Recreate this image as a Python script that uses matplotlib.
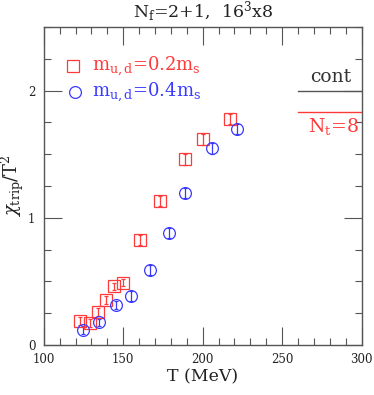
import numpy as np
import matplotlib
matplotlib.use("Agg")
import matplotlib.pyplot as plt
from matplotlib.ticker import MultipleLocator

# ==========================================
# DATA
# ==========================================

T_red = [122.8, 129.1, 134.0, 139.0, 144.0, 150.0, 160.8, 173.0, 188.9, 200.3, 217.3]
chi_red = [0.188, 0.173, 0.261, 0.353, 0.46, 0.49, 0.824, 1.13, 1.459, 1.616, 1.78]
err_red = [0.03, 0.03, 0.03, 0.03, 0.03, 0.03, 0.04, 0.04, 0.04, 0.04, 0.04]

T_blue = [124.8, 135.0, 145.3, 155.1, 167.0, 179.0, 188.9, 205.8, 221.5]
chi_blue = [0.118, 0.178, 0.316, 0.387, 0.588, 0.878, 1.192, 1.545, 1.70]
err_blue = [0.03, 0.03, 0.03, 0.04, 0.04, 0.04, 0.04, 0.04, 0.04]

cont_value = 2.0
nt8_value = 1.833

RED = "#ff3a3a"
BLUE = "#3a3aff"
GRAY = "#555555"
TXT = "#222222"

plt.rcParams["font.family"] = ["DejaVu Serif"]
plt.rcParams["mathtext.fontset"] = "dejavuserif"

fig = plt.figure(figsize=(3.74, 3.95), dpi=100)
ax = fig.add_axes([0.117, 0.1266, 0.850, 0.805])

# ==========================
# POINTS
# ==========================

ax.errorbar(T_red, chi_red, yerr=err_red, fmt="s", ms=8, mfc="none",
            mec=RED, mew=0.9, ecolor=RED, elinewidth=0.9, capsize=1.5,
            capthick=0.9)
ax.errorbar(T_blue, chi_blue, yerr=err_blue, fmt="o", ms=8.5, mfc="none",
            mec=BLUE, mew=0.9, ecolor=BLUE, elinewidth=0.9, capsize=1.5,
            capthick=0.9)

# limits on the right
ax.plot([260, 300], [cont_value, cont_value], color=GRAY, lw=1.0)
ax.plot([260, 300], [nt8_value, nt8_value], color=RED, lw=1.0)
ax.text(280.5, cont_value + 0.04, "cont", color="#333333", fontsize=13.5,
        ha="center", va="bottom")
ax.text(282, nt8_value - 0.03, r"N$_\mathrm{t}$=8", color=RED, fontsize=13.5,
        ha="center", va="top")

# legend
ax.plot([118.4], [2.19], "s", ms=8, mfc="none", mec=RED, mew=0.9)
ax.plot([119.5], [1.99], "o", ms=8.5, mfc="none", mec=BLUE, mew=0.9)
ax.text(130.5, 2.19, r"m$_\mathrm{u,d}$=0.2m$_\mathrm{s}$", color=RED,
        fontsize=13, va="center")
ax.text(130.5, 1.99, r"m$_\mathrm{u,d}$=0.4m$_\mathrm{s}$", color=BLUE,
        fontsize=13, va="center")

# ==========================
# AXES
# ==========================

ax.set_xlim(100, 300)
ax.set_ylim(0, 2.5)
ax.xaxis.set_major_locator(MultipleLocator(50))
ax.xaxis.set_minor_locator(MultipleLocator(10))
ax.yaxis.set_major_locator(MultipleLocator(1))
ax.yaxis.set_minor_locator(MultipleLocator(0.25))

ax.tick_params(which="both", direction="in", top=True, right=True,
               colors=GRAY, labelcolor=TXT, labelsize=8.5)
ax.tick_params(which="major", length=13, width=0.8, pad=6)
ax.tick_params(which="minor", length=5, width=0.8)
for s in ax.spines.values():
    s.set_color(GRAY)
    s.set_linewidth(1.0)

ax.set_title(r"N$_\mathrm{f}$=2+1,  16$^3$x8", fontsize=12.5, pad=7,
             color=TXT)
ax.set_xlabel("T (MeV)", fontsize=12.5, color=TXT)
ax.xaxis.set_label_coords(0.5, -0.074)
ax.set_ylabel(r"$\chi_\mathrm{trip}$/T$^2$", fontsize=13, color=TXT)
ax.yaxis.set_label_coords(-0.057, 0.5)

fig.savefig("out.png", dpi=100)
